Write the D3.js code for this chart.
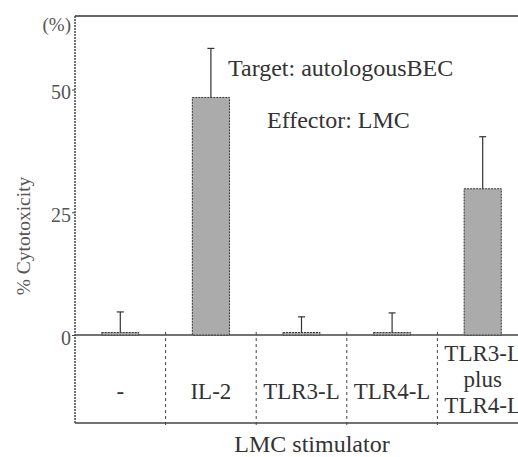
<!DOCTYPE html>
<html><head><meta charset="utf-8">
<script src="https://cdn.jsdelivr.net/npm/d3@7"></script>
</head><body style="margin:0">
<script>
const categories = ["-", "IL-2", "TLR3-L", "TLR4-L", "TLR3-L plus TLR4-L"];
const catLines = [["-"], ["IL-2"], ["TLR3-L"], ["TLR4-L"], ["TLR3-L", "plus", "TLR4-L"]];
const values = [0.5, 48.4, 0.5, 0.5, 29.8];
const errors = [4.2, 10.0, 3.2, 4.0, 10.6];
const yTicks = [0, 25, 50];
const yTickLabels = ["0", "25", "50"];

const W = 518, H = 457;
const FONT = "Liberation Serif";
const svg = d3.select("body").append("svg").attr("width", W).attr("height", H)
  .style("display", "block").attr("font-family", FONT).style("font-family", `"${FONT}"`);
const x0 = 75, x1 = 528, yTop = 16, yZero = 335, yBottom = 423;
const x = d3.scaleBand().domain(categories).range([x0, x1]).padding(0);
const y = d3.scaleLinear().domain([0, 65]).range([yZero, yTop]);
const barW = x.bandwidth() * 0.41;

function txt(xp, yp, s, size, fill, anchor) {
  const t = svg.append("text").attr("x", xp).attr("y", yp).attr("text-anchor", anchor || "start")
    .style("font-family", `"${FONT}"`).attr("font-size", size).attr("fill", fill).text(s);
  t.node().getComputedTextLength();
  return t;
}

svg.append("line").attr("x1", x0).attr("x2", W).attr("y1", yTop).attr("y2", yTop)
  .attr("stroke", "#333").attr("stroke-width", 1.6);
svg.append("line").attr("x1", x0).attr("x2", W).attr("y1", yZero).attr("y2", yZero)
  .attr("stroke", "#444").attr("stroke-width", 1.3);
svg.append("line").attr("x1", x0).attr("x2", W).attr("y1", yBottom).attr("y2", yBottom)
  .attr("stroke", "#444").attr("stroke-width", 1.3);
categories.slice(1).forEach(c => {
  svg.append("line").attr("x1", x(c)).attr("x2", x(c)).attr("y1", yZero - 3).attr("y2", yBottom + 2)
    .attr("stroke", "#444").attr("stroke-width", 1).attr("stroke-dasharray", "3,3");
});

svg.selectAll("rect.bar").data(categories).enter().append("rect")
  .attr("x", d => x(d) + x.bandwidth() / 2 - barW / 2)
  .attr("width", barW)
  .attr("y", (d, i) => y(values[i]))
  .attr("height", (d, i) => yZero - y(values[i]))
  .attr("fill", "#ababab").attr("stroke", "#333").attr("stroke-width", 1)
  .attr("stroke-dasharray", "2,1");

categories.forEach((c, i) => {
  const cx = x(c) + x.bandwidth() / 2;
  const top = y(values[i] + errors[i]);
  svg.append("line").attr("x1", cx).attr("x2", cx).attr("y1", y(values[i])).attr("y2", top)
    .attr("stroke", "#333").attr("stroke-width", 1.2);
  svg.append("line").attr("x1", cx - 3.5).attr("x2", cx + 3.5).attr("y1", top).attr("y2", top)
    .attr("stroke", "#333").attr("stroke-width", 1.2);
});

const axis = d3.axisLeft(y).tickValues(yTicks).tickFormat((d, i) => yTickLabels[i]).tickSize(3).tickPadding(1);
const ag = svg.append("g").attr("transform", `translate(${x0},0)`).call(axis);
ag.attr("font-family", FONT).attr("font-size", 20);
ag.select(".domain").remove();
ag.selectAll(".tick line").attr("stroke", "#444");
ag.selectAll(".tick text").style("font-family", `"${FONT}"`).attr("font-size", 20)
  .attr("fill", "#555").attr("dy", "0.45em");
svg.append("line").attr("x1", x0).attr("x2", x0).attr("y1", yTop).attr("y2", yBottom)
  .attr("stroke", "#444").attr("stroke-width", 1.5).attr("stroke-dasharray", "2,1");
txt(x0 - 4, yTop + 15, "(%)", 19, "#555", "end");

txt(0, 0, "% Cytotoxicity", 19.5, "#555", "middle").attr("transform", "translate(30,236) rotate(-90)");

categories.forEach((c, i) => {
  const cx = x(c) + x.bandwidth() / 2;
  const lines = catLines[i];
  if (lines.length === 1) {
    txt(cx, 399, lines[0], 23, "#333", "middle");
  } else {
    lines.forEach((t, j) => txt(cx, 361 + j * 26, t, 23, "#333", "middle"));
  }
});

txt(228, 76, "Target: autologousBEC", 24, "#333");
txt(267, 128, "Effector: LMC", 24, "#333");
txt(312, 452, "LMC stimulator", 24, "#333", "middle");
</script>
</body></html>
